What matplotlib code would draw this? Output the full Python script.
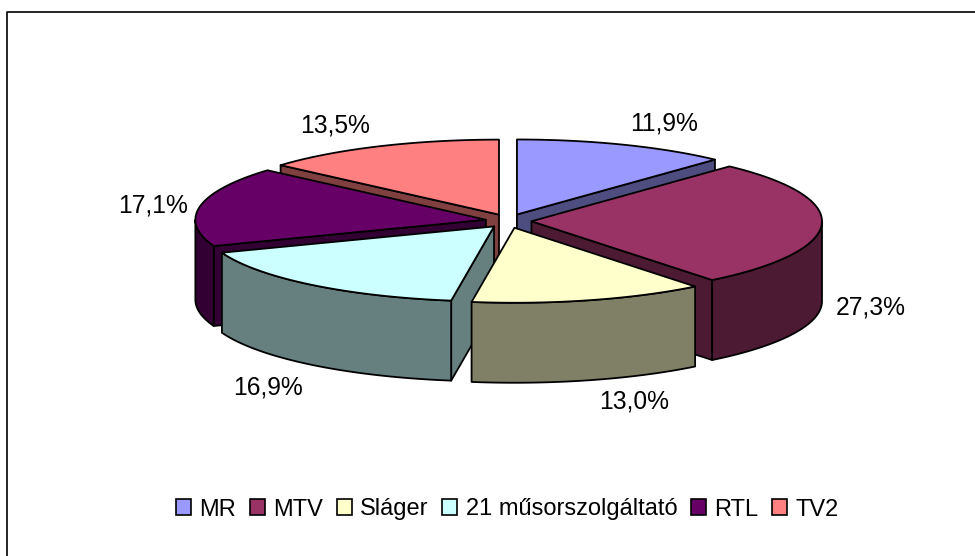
import numpy as np
import matplotlib
matplotlib.use("Agg")
import matplotlib.pyplot as plt
from matplotlib.patches import Patch, Polygon

plt.rcParams['font.family'] = ['Liberation Sans', 'DejaVu Sans']

names = ["MR", "MTV", "Sláger", "21 műsorszolgáltató", "RTL", "TV2"]
shares = [11.9, 27.3, 13.0, 16.9, 17.1, 13.5]
tops = ["#9999FF", "#993366", "#FFFFCC", "#CCFFFF", "#660066", "#FF8080"]
sides = ["#4D4D80", "#4D1A33", "#808066", "#668080", "#330033", "#804040"]
label_pos = [(664, 124), (871, 308), (634, 401), (268, 387), (153, 205), (335, 125)]

# pie geometry, in pixels
cx, cy = 508.5, 221
rx, ry = 290.5, 75
depth = 80
explode_x, explode_y = 23, 7
draw_order = [5, 0, 4, 1, 3, 2]  # back to front

edges = np.cumsum([0] + shares) / sum(shares) * 2 * np.pi


def rim(ax0, ay0, t0, t1):
    t = np.linspace(t0, t1, max(2, int((t1 - t0) * 60)))
    return np.column_stack([ax0 + rx * np.sin(t), ay0 - ry * np.cos(t)])


fig = plt.figure(figsize=(9.75, 5.56), dpi=100)
ax = fig.add_axes([0, 0, 1, 1])
ax.set_xlim(0, 975)
ax.set_ylim(556, 0)
ax.axis("off")

# chart border
ax.plot([975, 7, 7], [11.5, 11.5, 556], color="black", lw=1.2, solid_capstyle="butt")

for i in draw_order:
    t0, t1 = edges[i], edges[i + 1]
    mid = (t0 + t1) / 2
    ax0 = cx + explode_x * np.sin(mid)
    ay0 = cy - explode_y * np.cos(mid)
    down = np.array([0, depth])
    apex = np.array([ax0, ay0])

    # only the walls that face the viewer
    for t, visible in ((t0, -np.sin(t0) > 1e-6), (t1, np.sin(t1) > 1e-6)):
        if visible:
            p = rim(ax0, ay0, t, t)[0]
            ax.add_patch(Polygon([apex, p, p + down, apex + down], fc=sides[i], ec="black", lw=1.3, joinstyle="round"))

    lo, hi = max(t0, np.pi / 2), min(t1, 3 * np.pi / 2)
    if hi > lo:
        arc = rim(ax0, ay0, lo, hi)
        ax.add_patch(Polygon(np.vstack([arc, (arc + down)[::-1]]), fc=sides[i], ec="black", lw=1.3, joinstyle="round"))

    ax.add_patch(Polygon(np.vstack([apex, rim(ax0, ay0, t0, t1)]), fc=tops[i], ec="black", lw=1.3, joinstyle="round"))

for share, (x, y) in zip(shares, label_pos):
    ax.text(x, y, f"{share:.1f}%".replace(".", ","), ha="center", va="center", fontsize=17.7, color="black")

handles = [Patch(fc=c, ec="black", lw=1.2) for c in tops]
ax.legend(handles, names, ncol=6, loc="center", bbox_to_anchor=(507.5, 509.5), bbox_transform=ax.transData,
          frameon=False, fontsize=17, borderpad=0, handlelength=0.63, handleheight=0.63,
          handletextpad=0.36, columnspacing=0.58, borderaxespad=0)

fig.savefig("out.png", dpi=100)
